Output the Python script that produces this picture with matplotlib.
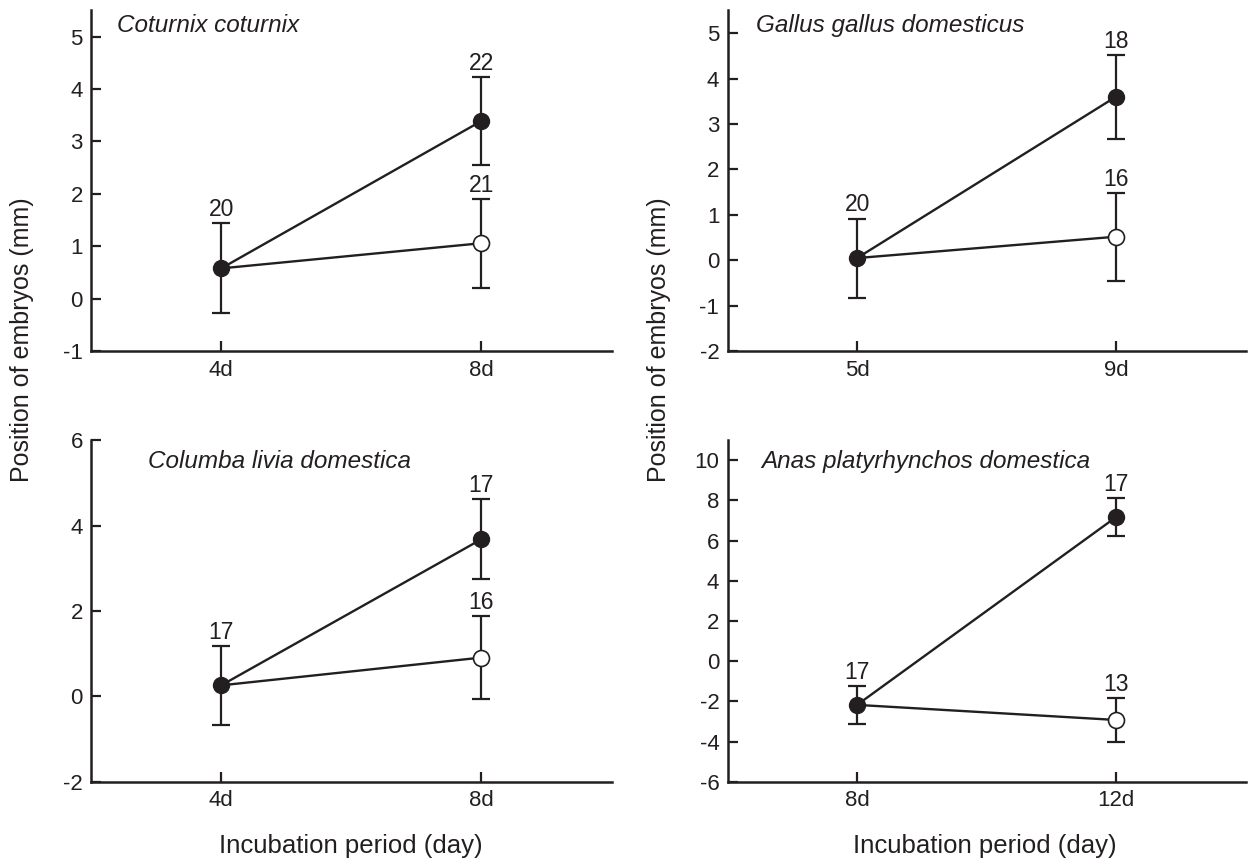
import numpy as np
import matplotlib
matplotlib.use("Agg")
import matplotlib.pyplot as plt

############## Données ##############################################

especes = ["Coturnix coturnix", "Gallus gallus domesticus",
           "Columba livia domestica", "Anas platyrhynchos domestica"]
jours = [["4d", "8d"], ["5d", "9d"], ["4d", "8d"], ["8d", "12d"]]

# point de départ (commun aux deux séries)
debut_moy = [0.58, 0.05, 0.26, -2.17]
debut_err = [0.86, 0.87, 0.93, 0.94]
n_debut = [20, 20, 17, 17]

# série pleine (second point)
plein_moy = [3.39, 3.60, 3.68, 7.17]
plein_err = [0.83, 0.92, 0.94, 0.93]
n_plein = [22, 18, 17, 17]

# série vide (second point)
vide_moy = [1.06, 0.52, 0.91, -2.92]
vide_err = [0.85, 0.97, 0.97, 1.08]
n_vide = [21, 16, 16, 13]

limites_y = [(-1, 5.5), (-2, 5.5), (-2, 6), (-6, 11)]
ticks_y = [np.arange(-1, 6, 1), np.arange(-2, 6, 1),
           np.arange(-2, 7, 2), np.arange(-6, 11, 2)]

############## Figure ###############################################

plt.rcParams['font.family'] = ['Liberation Sans', 'DejaVu Sans']
noir = '#231f20'

fig = plt.figure(figsize=(12.48, 8.63), dpi=100)
positions = [[0.073, 0.593, 0.417, 0.395],
             [0.583, 0.593, 0.415, 0.395],
             [0.073, 0.094, 0.417, 0.396],
             [0.583, 0.094, 0.415, 0.396]]
titre_pos = [(0.05, 0.955), (0.054, 0.955), (0.109, 0.938), (0.064, 0.938)]

for i in range(4):
    ax = fig.add_axes(positions[i])
    x = [1, 2]
    # lignes
    ax.plot(x, [debut_moy[i], vide_moy[i]], color=noir, lw=1.7, zorder=2)
    ax.plot(x, [debut_moy[i], plein_moy[i]], color=noir, lw=1.7, zorder=2)
    # barres d'erreur
    ax.errorbar([1, 2, 2], [debut_moy[i], plein_moy[i], vide_moy[i]],
                yerr=[debut_err[i], plein_err[i], vide_err[i]],
                fmt='none', ecolor=noir, elinewidth=1.6, capsize=6.5,
                capthick=1.6, zorder=1)
    # points
    ax.plot([2], [vide_moy[i]], 'o', ms=11.5, mfc='white', mec=noir, mew=1.2, zorder=3)
    ax.plot([1, 2], [debut_moy[i], plein_moy[i]], 'o', ms=11.5, mfc=noir, mec=noir, zorder=3)
    # effectifs
    for xx, m, e, n in [(1, debut_moy[i], debut_err[i], n_debut[i]),
                        (2, plein_moy[i], plein_err[i], n_plein[i]),
                        (2, vide_moy[i], vide_err[i], n_vide[i])]:
        ax.annotate(str(n), (xx, m + e), xytext=(0, 1.5), textcoords='offset points',
                    ha='center', va='bottom', fontsize=16.5, color=noir)

    ax.set_xlim(0.5, 2.5)
    ax.set_ylim(*limites_y[i])
    ax.set_xticks(x)
    ax.set_xticklabels(jours[i])
    ax.set_yticks(ticks_y[i])
    ax.set_yticklabels([str(v) for v in ticks_y[i]])
    ax.tick_params(direction='in', length=7, width=1.6, labelsize=16,
                   colors=noir, pad=6)
    for s in ['top', 'right']:
        ax.spines[s].set_visible(False)
    for s in ['left', 'bottom']:
        ax.spines[s].set_linewidth(1.8)
        ax.spines[s].set_color(noir)
    ax.text(titre_pos[i][0], titre_pos[i][1], especes[i], transform=ax.transAxes,
            fontsize=17.5, style='italic', color=noir, va='center', ha='left')

# étiquettes des axes
for xl in [0.018, 0.528]:
    fig.text(xl, 1 - 340 / 863, "Position of embryos (mm)", rotation=90,
             ha='center', va='center', fontsize=18, color=noir)
for xc in [351 / 1248, 985 / 1248]:
    fig.text(xc, 1 - 846 / 863, "Incubation period (day)", ha='center',
             va='center', fontsize=18.5, color=noir)

fig.savefig('out.png', dpi=100)
